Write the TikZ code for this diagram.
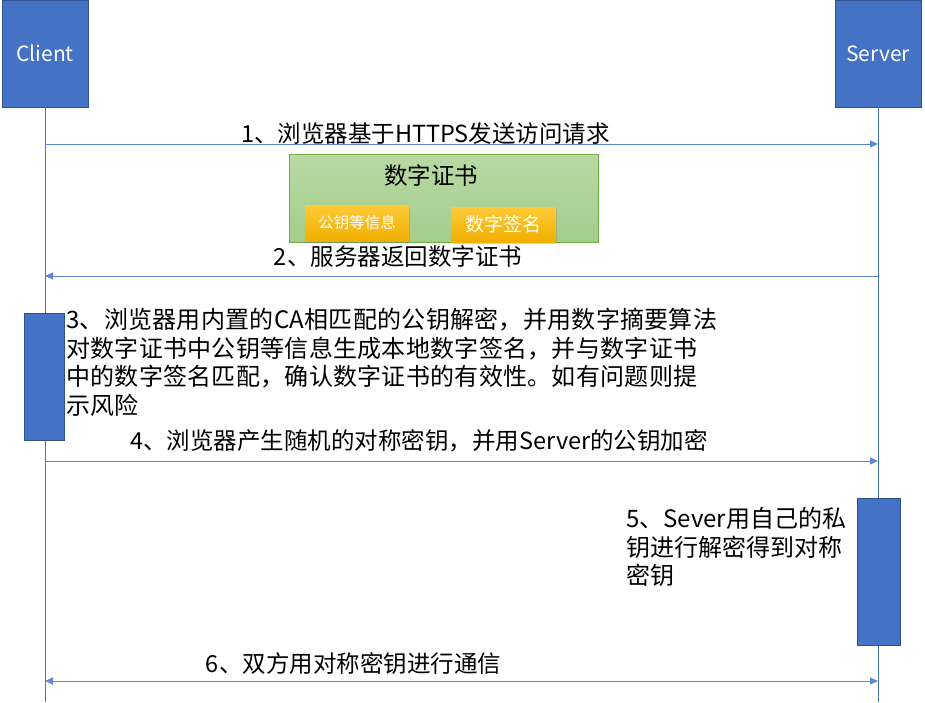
\documentclass[tikz,border=0pt]{standalone}
\usepackage{fontspec}
\setmainfont{Noto Sans CJK SC}
\usetikzlibrary{arrows.meta,shadows}

\definecolor{boxblue}{HTML}{4472C4}
\definecolor{boxedge}{HTML}{2F528F}
\definecolor{msgblue}{HTML}{5B87D6}
\definecolor{certedge}{HTML}{70AD47}
\definecolor{certtop}{HTML}{B9D9A5}
\definecolor{certbot}{HTML}{A3CD8A}
\definecolor{goldtop}{HTML}{FFCA38}
\definecolor{goldbot}{HTML}{F0B000}

\tikzset{
  >={Triangle[length=8pt,width=7pt]},
  actor/.style={draw=boxedge, fill=boxblue, text=white, line width=0.8pt,
    minimum width=86pt, minimum height=107pt, font=\fontsize{21}{25}\selectfont},
  activity/.style={draw=boxedge, fill=boxblue, line width=0.8pt},
  lifeline/.style={boxblue, line width=1pt},
  msg/.style={msgblue, line width=0.9pt},
  lbl/.style={font=\fontsize{23.5}{28}\selectfont, inner sep=0pt},
  note/.style={font=\fontsize{24}{28.6}\selectfont, align=left, inner sep=0pt},
  widenote/.style={note, font=\fontsize{24}{28.6}\selectfont\addfontfeature{LetterSpace=1.2}},
  tag/.style={top color=goldtop, bottom color=goldbot, text=white, inner sep=0pt,
    drop shadow={shadow xshift=1pt, shadow yshift=-2pt, opacity=0.35}}
}

\begin{document}
\begin{tikzpicture}[x=1pt, y=-1pt]
  \useasboundingbox (0,0) rectangle (925,702);

  % actors and lifelines
  \node[actor] (client) at (45,53.5) {Client};
  \node[actor] (server) at (878,53.5) {Server};
  \coordinate (client-end) at (45,702);
  \coordinate (server-end) at (878,702);
  \draw[lifeline] (client) -- (client-end);
  \draw[lifeline] (server) -- (server-end);

  % activation bars
  \node[activity, minimum width=40pt, minimum height=127pt] (client-act) at (44,376.5) {};
  \node[activity, minimum width=43pt, minimum height=147pt] (server-act) at (878.5,571.5) {};

  % message end points on the lifelines
  \coordinate (c1) at (45,144);  \coordinate (s1) at (878,144);
  \coordinate (c2) at (45,276);  \coordinate (s2) at (878,276);
  \coordinate (c4) at (45,461);  \coordinate (s4) at (878,461);
  \coordinate (c6) at (45,681);  \coordinate (s6) at (878,681);

  % certificate
  \node[draw=certedge, top color=certtop, bottom color=certbot, line width=0.8pt,
    minimum width=309pt, minimum height=88pt] (cert) at (443.5,198) {};
  \node[font=\fontsize{23.5}{28}\selectfont, inner sep=0pt] (cert-title) at (431,176) {数字证书};
  \node[tag, minimum width=104pt, minimum height=36pt, font=\fontsize{15.5}{18}\selectfont]
    (pubkey) at (357,223) {公钥等信息};
  \node[tag, minimum width=105pt, minimum height=35pt, font=\fontsize{19}{22}\selectfont]
    (sign) at (503.5,224.5) {数字签名};

  % messages
  \draw[msg, ->] (c1) -- (s1);
  \node[lbl] (l1) at (425.5,134) {1、浏览器基于HTTPS发送访问请求};
  \draw[msg, ->] (s2) -- (c2);
  \node[lbl] (l2) at (398,257) {2、服务器返回数字证书};
  \node[widenote, anchor=north west] (n3) at (66,308)
    {3、浏览器用内置的CA相匹配的公钥解密，并用数字摘要算法\\
     对数字证书中公钥等信息生成本地数字签名，并与数字证书\\
     中的数字签名匹配，确认数字证书的有效性。如有问题则提\\
     示风险};
  \draw[msg, ->] (c4) -- (s4);
  \node[lbl] (l4) at (419,441) {4、浏览器产生随机的对称密钥，并用Server的公钥加密};
  \node[note, anchor=north west] (n5) at (626,507)
    {5、Sever用自己的私\\
     钥进行解密得到对称\\
     密钥};
  \draw[msg, <->] (c6) -- (s6);
  \node[lbl] (l6) at (353.5,663) {6、双方用对称密钥进行通信};
\end{tikzpicture}
\end{document}
